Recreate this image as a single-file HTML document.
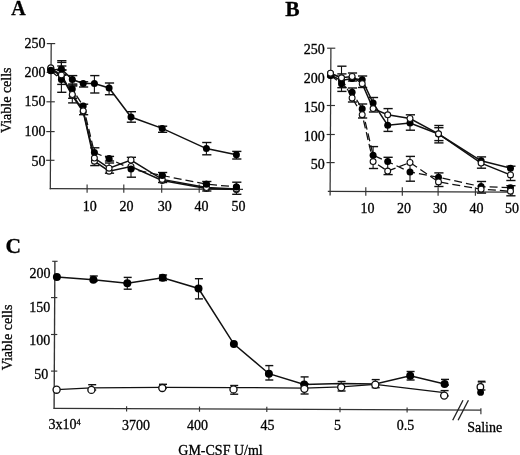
<!DOCTYPE html>
<html><head><meta charset="utf-8"><style>
html,body{margin:0;padding:0;background:#fff;}
svg{display:block;will-change:transform;}
text{font-family:"Liberation Serif",serif;fill:#000;stroke:#000;stroke-width:0.3px;}
</style></head><body>
<svg width="520" height="455" viewBox="0 0 520 455" stroke="#111" stroke-linecap="butt">
<text transform="translate(11.3 14.5) scale(0.93 1)" font-size="21.5" text-anchor="start" font-weight="bold">A</text>
<line x1="51.20" y1="43.60" x2="50.30" y2="189.30" stroke-width="1.25" stroke="#333"/>
<line x1="49.70" y1="188.70" x2="243.00" y2="189.40" stroke-width="1.25" stroke="#333"/>
<line x1="46.80" y1="43.60" x2="55.20" y2="43.60" stroke-width="1.15" stroke="#333"/>
<text transform="translate(45.5 48.1) scale(1.0 1)" font-size="14" text-anchor="end" font-weight="normal">250</text>
<line x1="46.62" y1="72.40" x2="55.02" y2="72.40" stroke-width="1.15" stroke="#333"/>
<text transform="translate(45.5 76.9) scale(1.0 1)" font-size="14" text-anchor="end" font-weight="normal">200</text>
<line x1="46.44" y1="101.80" x2="54.84" y2="101.80" stroke-width="1.15" stroke="#333"/>
<text transform="translate(45.5 106.3) scale(1.0 1)" font-size="14" text-anchor="end" font-weight="normal">150</text>
<line x1="46.26" y1="131.60" x2="54.66" y2="131.60" stroke-width="1.15" stroke="#333"/>
<text transform="translate(45.5 136.1) scale(1.0 1)" font-size="14" text-anchor="end" font-weight="normal">100</text>
<line x1="46.08" y1="160.30" x2="54.48" y2="160.30" stroke-width="1.15" stroke="#333"/>
<text transform="translate(45.5 165.9) scale(1.0 1)" font-size="14" text-anchor="end" font-weight="normal">50</text>
<line x1="87.10" y1="184.50" x2="87.10" y2="192.80" stroke-width="1.15" stroke="#333"/>
<text transform="translate(89.7 211.0) scale(1.0 1)" font-size="14" text-anchor="middle" font-weight="normal">10</text>
<line x1="123.80" y1="184.50" x2="123.80" y2="192.80" stroke-width="1.15" stroke="#333"/>
<text transform="translate(126.4 211.0) scale(1.0 1)" font-size="14" text-anchor="middle" font-weight="normal">20</text>
<line x1="161.70" y1="184.50" x2="161.70" y2="192.80" stroke-width="1.15" stroke="#333"/>
<text transform="translate(164.7 211.0) scale(1.0 1)" font-size="14" text-anchor="middle" font-weight="normal">30</text>
<line x1="199.20" y1="184.50" x2="199.20" y2="192.80" stroke-width="1.15" stroke="#333"/>
<text transform="translate(201.5 211.0) scale(1.0 1)" font-size="14" text-anchor="middle" font-weight="normal">40</text>
<line x1="236.60" y1="184.50" x2="236.60" y2="192.80" stroke-width="1.15" stroke="#333"/>
<text transform="translate(238.6 211.0) scale(1.0 1)" font-size="14" text-anchor="middle" font-weight="normal">50</text>
<text transform="translate(10.8 133.1) rotate(-90)" font-size="14" text-anchor="start" font-weight="normal">Viable cells</text>
<line x1="61.4" y1="60.7" x2="61.4" y2="75" stroke-width="1.1"/>
<line x1="57.20" y1="60.7" x2="66.40" y2="60.7" stroke-width="1.4"/>
<line x1="57.20" y1="75" x2="66.40" y2="75" stroke-width="1.4"/>
<line x1="61.4" y1="62.4" x2="61.4" y2="75" stroke-width="1.1"/>
<line x1="57.20" y1="62.4" x2="66.40" y2="62.4" stroke-width="1.4"/>
<line x1="57.20" y1="75" x2="66.40" y2="75" stroke-width="1.4"/>
<line x1="61.4" y1="66" x2="61.4" y2="75" stroke-width="1.1"/>
<line x1="57.20" y1="66" x2="66.40" y2="66" stroke-width="1.4"/>
<line x1="57.20" y1="75" x2="66.40" y2="75" stroke-width="1.4"/>
<line x1="72.3" y1="75.6" x2="72.3" y2="85" stroke-width="1.1"/>
<line x1="68.10" y1="75.6" x2="77.30" y2="75.6" stroke-width="1.4"/>
<line x1="68.10" y1="85" x2="77.30" y2="85" stroke-width="1.4"/>
<line x1="83.2" y1="81.8" x2="83.2" y2="87" stroke-width="1.1"/>
<line x1="79.00" y1="81.8" x2="88.20" y2="81.8" stroke-width="1.4"/>
<line x1="79.00" y1="87" x2="88.20" y2="87" stroke-width="1.4"/>
<line x1="94.4" y1="75.6" x2="94.4" y2="93" stroke-width="1.1"/>
<line x1="90.20" y1="75.6" x2="99.40" y2="75.6" stroke-width="1.4"/>
<line x1="90.20" y1="93" x2="99.40" y2="93" stroke-width="1.4"/>
<line x1="109.1" y1="83" x2="109.1" y2="94.7" stroke-width="1.1"/>
<line x1="104.90" y1="83" x2="114.10" y2="83" stroke-width="1.4"/>
<line x1="104.90" y1="94.7" x2="114.10" y2="94.7" stroke-width="1.4"/>
<line x1="131.0" y1="111.7" x2="131.0" y2="122.2" stroke-width="1.1"/>
<line x1="126.80" y1="111.7" x2="136.00" y2="111.7" stroke-width="1.4"/>
<line x1="126.80" y1="122.2" x2="136.00" y2="122.2" stroke-width="1.4"/>
<line x1="162.2" y1="126.2" x2="162.2" y2="132.3" stroke-width="1.1"/>
<line x1="158.00" y1="126.2" x2="167.20" y2="126.2" stroke-width="1.4"/>
<line x1="158.00" y1="132.3" x2="167.20" y2="132.3" stroke-width="1.4"/>
<line x1="206.4" y1="142.5" x2="206.4" y2="154.8" stroke-width="1.1"/>
<line x1="202.20" y1="142.5" x2="211.40" y2="142.5" stroke-width="1.4"/>
<line x1="202.20" y1="154.8" x2="211.40" y2="154.8" stroke-width="1.4"/>
<line x1="236.4" y1="151.4" x2="236.4" y2="159" stroke-width="1.1"/>
<line x1="232.20" y1="151.4" x2="241.40" y2="151.4" stroke-width="1.4"/>
<line x1="232.20" y1="159" x2="241.40" y2="159" stroke-width="1.4"/>
<line x1="61.4" y1="70" x2="61.4" y2="84.4" stroke-width="1.1"/>
<line x1="57.20" y1="70" x2="66.40" y2="70" stroke-width="1.4"/>
<line x1="57.20" y1="84.4" x2="66.40" y2="84.4" stroke-width="1.4"/>
<line x1="61.4" y1="70" x2="61.4" y2="92.3" stroke-width="1.1"/>
<line x1="57.20" y1="70" x2="66.40" y2="70" stroke-width="1.4"/>
<line x1="57.20" y1="92.3" x2="66.40" y2="92.3" stroke-width="1.4"/>
<line x1="72.3" y1="84" x2="72.3" y2="98.3" stroke-width="1.1"/>
<line x1="68.10" y1="84" x2="77.30" y2="84" stroke-width="1.4"/>
<line x1="68.10" y1="98.3" x2="77.30" y2="98.3" stroke-width="1.4"/>
<line x1="72.3" y1="86" x2="72.3" y2="102.9" stroke-width="1.1"/>
<line x1="68.10" y1="86" x2="77.30" y2="86" stroke-width="1.4"/>
<line x1="68.10" y1="102.9" x2="77.30" y2="102.9" stroke-width="1.4"/>
<line x1="83.2" y1="104.2" x2="83.2" y2="114.7" stroke-width="1.1"/>
<line x1="79.00" y1="104.2" x2="88.20" y2="104.2" stroke-width="1.4"/>
<line x1="79.00" y1="114.7" x2="88.20" y2="114.7" stroke-width="1.4"/>
<line x1="94.4" y1="147.8" x2="94.4" y2="165.6" stroke-width="1.1"/>
<line x1="90.20" y1="147.8" x2="99.40" y2="147.8" stroke-width="1.4"/>
<line x1="90.20" y1="165.6" x2="99.40" y2="165.6" stroke-width="1.4"/>
<line x1="109.1" y1="156.4" x2="109.1" y2="161" stroke-width="1.1"/>
<line x1="104.90" y1="156.4" x2="114.10" y2="156.4" stroke-width="1.4"/>
<line x1="104.90" y1="161" x2="114.10" y2="161" stroke-width="1.4"/>
<line x1="109.1" y1="163" x2="109.1" y2="173.2" stroke-width="1.1"/>
<line x1="104.90" y1="163" x2="114.10" y2="163" stroke-width="1.4"/>
<line x1="104.90" y1="173.2" x2="114.10" y2="173.2" stroke-width="1.4"/>
<line x1="131.0" y1="157.3" x2="131.0" y2="177.2" stroke-width="1.1"/>
<line x1="126.80" y1="157.3" x2="136.00" y2="157.3" stroke-width="1.4"/>
<line x1="126.80" y1="177.2" x2="136.00" y2="177.2" stroke-width="1.4"/>
<line x1="162.2" y1="172.5" x2="162.2" y2="182.5" stroke-width="1.1"/>
<line x1="158.00" y1="172.5" x2="167.20" y2="172.5" stroke-width="1.4"/>
<line x1="158.00" y1="182.5" x2="167.20" y2="182.5" stroke-width="1.4"/>
<line x1="206.4" y1="181.5" x2="206.4" y2="191" stroke-width="1.1"/>
<line x1="202.20" y1="181.5" x2="211.40" y2="181.5" stroke-width="1.4"/>
<line x1="202.20" y1="191" x2="211.40" y2="191" stroke-width="1.4"/>
<line x1="236.4" y1="182.2" x2="236.4" y2="194.3" stroke-width="1.1"/>
<line x1="232.20" y1="182.2" x2="241.40" y2="182.2" stroke-width="1.4"/>
<line x1="232.20" y1="194.3" x2="241.40" y2="194.3" stroke-width="1.4"/>
<polyline points="50.8,69.0 61.4,76.0 72.3,95.5 83.2,111.8 94.4,161.2 109.1,171.2 131.0,166.5 162.2,180.5 206.4,188.5 236.4,189.6" fill="none" stroke-width="1.5"/>
<polyline points="50.8,70.8 61.4,79.6 72.3,89.0 83.2,106.0 94.4,152.6 109.1,158.6 131.0,169.0 162.2,175.5 206.4,184.2 236.4,186.9" fill="none" stroke-width="1.25" stroke-dasharray="8,4"/>
<polyline points="50.8,68.6 61.4,74.9 72.3,94.5 83.2,110.8 94.4,158.1 109.1,168.2 131.0,160.0 162.2,179.4 206.4,187.6 236.4,188.9" fill="none" stroke-width="1.5"/>
<polyline points="50.8,70.2 61.4,69.0 72.3,79.5 83.2,83.5 94.4,83.5 109.1,88.0 131.0,117.0 162.2,128.4 206.4,148.6 236.4,154.8" fill="none" stroke-width="1.5"/>
<circle cx="50.8" cy="69.0" r="2.95" fill="#fff" stroke-width="1.1"/>
<circle cx="61.4" cy="76.0" r="2.95" fill="#fff" stroke-width="1.1"/>
<circle cx="72.3" cy="95.5" r="2.95" fill="#fff" stroke-width="1.1"/>
<circle cx="83.2" cy="111.8" r="2.95" fill="#fff" stroke-width="1.1"/>
<circle cx="94.4" cy="161.2" r="2.95" fill="#fff" stroke-width="1.1"/>
<circle cx="109.1" cy="171.2" r="2.95" fill="#fff" stroke-width="1.1"/>
<circle cx="131.0" cy="166.5" r="2.95" fill="#fff" stroke-width="1.1"/>
<circle cx="162.2" cy="180.5" r="2.95" fill="#fff" stroke-width="1.1"/>
<circle cx="206.4" cy="188.5" r="2.95" fill="#fff" stroke-width="1.1"/>
<circle cx="236.4" cy="189.6" r="2.95" fill="#fff" stroke-width="1.1"/>
<circle cx="50.8" cy="70.8" r="3.5" fill="#000" stroke="none"/>
<circle cx="61.4" cy="79.6" r="3.5" fill="#000" stroke="none"/>
<circle cx="72.3" cy="89.0" r="3.5" fill="#000" stroke="none"/>
<circle cx="83.2" cy="106.0" r="3.5" fill="#000" stroke="none"/>
<circle cx="94.4" cy="152.6" r="3.5" fill="#000" stroke="none"/>
<circle cx="109.1" cy="158.6" r="3.5" fill="#000" stroke="none"/>
<circle cx="131.0" cy="169.0" r="3.5" fill="#000" stroke="none"/>
<circle cx="162.2" cy="175.5" r="3.5" fill="#000" stroke="none"/>
<circle cx="206.4" cy="184.2" r="3.5" fill="#000" stroke="none"/>
<circle cx="236.4" cy="186.9" r="3.5" fill="#000" stroke="none"/>
<circle cx="50.8" cy="68.6" r="2.95" fill="#fff" stroke-width="1.1"/>
<circle cx="61.4" cy="74.9" r="2.95" fill="#fff" stroke-width="1.1"/>
<circle cx="72.3" cy="94.5" r="2.95" fill="#fff" stroke-width="1.1"/>
<circle cx="83.2" cy="110.8" r="2.95" fill="#fff" stroke-width="1.1"/>
<circle cx="94.4" cy="158.1" r="2.95" fill="#fff" stroke-width="1.1"/>
<circle cx="109.1" cy="168.2" r="2.95" fill="#fff" stroke-width="1.1"/>
<circle cx="131.0" cy="160.0" r="2.95" fill="#fff" stroke-width="1.1"/>
<circle cx="162.2" cy="179.4" r="2.95" fill="#fff" stroke-width="1.1"/>
<circle cx="206.4" cy="187.6" r="2.95" fill="#fff" stroke-width="1.1"/>
<circle cx="236.4" cy="188.9" r="2.95" fill="#fff" stroke-width="1.1"/>
<circle cx="162.2" cy="175.5" r="3.5" fill="#000" stroke="none"/>
<circle cx="206.4" cy="184.2" r="3.5" fill="#000" stroke="none"/>
<circle cx="236.4" cy="186.9" r="3.5" fill="#000" stroke="none"/>
<circle cx="50.8" cy="67.8" r="2.95" fill="#fff" stroke-width="1.1"/>
<circle cx="50.8" cy="70.2" r="3.5" fill="#000" stroke="none"/>
<circle cx="61.4" cy="69.0" r="3.5" fill="#000" stroke="none"/>
<circle cx="72.3" cy="79.5" r="3.5" fill="#000" stroke="none"/>
<circle cx="83.2" cy="83.5" r="3.5" fill="#000" stroke="none"/>
<circle cx="94.4" cy="83.5" r="3.5" fill="#000" stroke="none"/>
<circle cx="109.1" cy="88.0" r="3.5" fill="#000" stroke="none"/>
<circle cx="131.0" cy="117.0" r="3.5" fill="#000" stroke="none"/>
<circle cx="162.2" cy="128.4" r="3.5" fill="#000" stroke="none"/>
<circle cx="206.4" cy="148.6" r="3.5" fill="#000" stroke="none"/>
<circle cx="236.4" cy="154.8" r="3.5" fill="#000" stroke="none"/>
<text transform="translate(285.2 16.3) scale(1.0 1)" font-size="21.5" text-anchor="start" font-weight="bold">B</text>
<line x1="330.90" y1="48.20" x2="330.10" y2="195.60" stroke-width="1.25" stroke="#333"/>
<line x1="327.80" y1="191.40" x2="513.00" y2="192.10" stroke-width="1.25" stroke="#333"/>
<line x1="327.10" y1="48.20" x2="335.30" y2="48.20" stroke-width="1.15" stroke="#333"/>
<text transform="translate(324.8 54.400000000000006) scale(1.0 1)" font-size="14" text-anchor="end" font-weight="normal">250</text>
<line x1="326.94" y1="76.90" x2="335.14" y2="76.90" stroke-width="1.15" stroke="#333"/>
<text transform="translate(324.8 83.10000000000001) scale(1.0 1)" font-size="14" text-anchor="end" font-weight="normal">200</text>
<line x1="326.79" y1="105.50" x2="334.99" y2="105.50" stroke-width="1.15" stroke="#333"/>
<text transform="translate(324.8 111.7) scale(1.0 1)" font-size="14" text-anchor="end" font-weight="normal">150</text>
<line x1="326.63" y1="134.50" x2="334.83" y2="134.50" stroke-width="1.15" stroke="#333"/>
<text transform="translate(324.8 140.7) scale(1.0 1)" font-size="14" text-anchor="end" font-weight="normal">100</text>
<line x1="326.48" y1="162.60" x2="334.68" y2="162.60" stroke-width="1.15" stroke="#333"/>
<text transform="translate(324.8 168.79999999999998) scale(1.0 1)" font-size="14" text-anchor="end" font-weight="normal">50</text>
<line x1="365.80" y1="187.30" x2="365.80" y2="195.80" stroke-width="1.15" stroke="#333"/>
<text transform="translate(367.6 213.2) scale(1.0 1)" font-size="14" text-anchor="middle" font-weight="normal">10</text>
<line x1="402.30" y1="187.30" x2="402.30" y2="195.80" stroke-width="1.15" stroke="#333"/>
<text transform="translate(404.1 213.2) scale(1.0 1)" font-size="14" text-anchor="middle" font-weight="normal">20</text>
<line x1="438.10" y1="187.30" x2="438.10" y2="195.80" stroke-width="1.15" stroke="#333"/>
<text transform="translate(440.0 213.2) scale(1.0 1)" font-size="14" text-anchor="middle" font-weight="normal">30</text>
<line x1="475.40" y1="187.30" x2="475.40" y2="195.80" stroke-width="1.15" stroke="#333"/>
<text transform="translate(476.6 213.2) scale(1.0 1)" font-size="14" text-anchor="middle" font-weight="normal">40</text>
<line x1="512.00" y1="187.30" x2="512.00" y2="195.80" stroke-width="1.15" stroke="#333"/>
<text transform="translate(512.1 213.2) scale(1.0 1)" font-size="14" text-anchor="middle" font-weight="normal">50</text>
<line x1="341.5" y1="66.2" x2="341.5" y2="91.4" stroke-width="1.1"/>
<line x1="337.30" y1="66.2" x2="346.50" y2="66.2" stroke-width="1.4"/>
<line x1="337.30" y1="91.4" x2="346.50" y2="91.4" stroke-width="1.4"/>
<line x1="352.1" y1="73" x2="352.1" y2="81" stroke-width="1.1"/>
<line x1="347.90" y1="73" x2="357.10" y2="73" stroke-width="1.4"/>
<line x1="347.90" y1="81" x2="357.10" y2="81" stroke-width="1.4"/>
<line x1="362.2" y1="76" x2="362.2" y2="87.5" stroke-width="1.1"/>
<line x1="358.00" y1="76" x2="367.20" y2="76" stroke-width="1.4"/>
<line x1="358.00" y1="87.5" x2="367.20" y2="87.5" stroke-width="1.4"/>
<line x1="373.1" y1="97.5" x2="373.1" y2="112" stroke-width="1.1"/>
<line x1="368.90" y1="97.5" x2="378.10" y2="97.5" stroke-width="1.4"/>
<line x1="368.90" y1="112" x2="378.10" y2="112" stroke-width="1.4"/>
<line x1="387.7" y1="108.6" x2="387.7" y2="131.4" stroke-width="1.1"/>
<line x1="383.50" y1="108.6" x2="392.70" y2="108.6" stroke-width="1.4"/>
<line x1="383.50" y1="131.4" x2="392.70" y2="131.4" stroke-width="1.4"/>
<line x1="410.0" y1="114.8" x2="410.0" y2="130.2" stroke-width="1.1"/>
<line x1="405.80" y1="114.8" x2="415.00" y2="114.8" stroke-width="1.4"/>
<line x1="405.80" y1="130.2" x2="415.00" y2="130.2" stroke-width="1.4"/>
<line x1="438.5" y1="125.5" x2="438.5" y2="142.9" stroke-width="1.1"/>
<line x1="434.30" y1="125.5" x2="443.50" y2="125.5" stroke-width="1.4"/>
<line x1="434.30" y1="142.9" x2="443.50" y2="142.9" stroke-width="1.4"/>
<line x1="481.1" y1="156.9" x2="481.1" y2="168.2" stroke-width="1.1"/>
<line x1="476.90" y1="156.9" x2="486.10" y2="156.9" stroke-width="1.4"/>
<line x1="476.90" y1="168.2" x2="486.10" y2="168.2" stroke-width="1.4"/>
<line x1="510.5" y1="166.2" x2="510.5" y2="180.5" stroke-width="1.1"/>
<line x1="506.30" y1="166.2" x2="515.50" y2="166.2" stroke-width="1.4"/>
<line x1="506.30" y1="180.5" x2="515.50" y2="180.5" stroke-width="1.4"/>
<line x1="438.5" y1="127.7" x2="438.5" y2="140.6" stroke-width="1.1"/>
<line x1="434.30" y1="127.7" x2="443.50" y2="127.7" stroke-width="1.4"/>
<line x1="434.30" y1="140.6" x2="443.50" y2="140.6" stroke-width="1.4"/>
<line x1="341.5" y1="73.9" x2="341.5" y2="87.7" stroke-width="1.1"/>
<line x1="337.30" y1="73.9" x2="346.50" y2="73.9" stroke-width="1.4"/>
<line x1="337.30" y1="87.7" x2="346.50" y2="87.7" stroke-width="1.4"/>
<line x1="352.1" y1="88" x2="352.1" y2="102" stroke-width="1.1"/>
<line x1="347.90" y1="88" x2="357.10" y2="88" stroke-width="1.4"/>
<line x1="347.90" y1="102" x2="357.10" y2="102" stroke-width="1.4"/>
<line x1="362.2" y1="104" x2="362.2" y2="118" stroke-width="1.1"/>
<line x1="358.00" y1="104" x2="367.20" y2="104" stroke-width="1.4"/>
<line x1="358.00" y1="118" x2="367.20" y2="118" stroke-width="1.4"/>
<line x1="373.1" y1="146.6" x2="373.1" y2="168.5" stroke-width="1.1"/>
<line x1="368.90" y1="146.6" x2="378.10" y2="146.6" stroke-width="1.4"/>
<line x1="368.90" y1="168.5" x2="378.10" y2="168.5" stroke-width="1.4"/>
<line x1="387.7" y1="157.3" x2="387.7" y2="174.6" stroke-width="1.1"/>
<line x1="383.50" y1="157.3" x2="392.70" y2="157.3" stroke-width="1.4"/>
<line x1="383.50" y1="174.6" x2="392.70" y2="174.6" stroke-width="1.4"/>
<line x1="410.0" y1="156.4" x2="410.0" y2="181.2" stroke-width="1.1"/>
<line x1="405.80" y1="156.4" x2="415.00" y2="156.4" stroke-width="1.4"/>
<line x1="405.80" y1="181.2" x2="415.00" y2="181.2" stroke-width="1.4"/>
<line x1="438.5" y1="172.9" x2="438.5" y2="186.5" stroke-width="1.1"/>
<line x1="434.30" y1="172.9" x2="443.50" y2="172.9" stroke-width="1.4"/>
<line x1="434.30" y1="186.5" x2="443.50" y2="186.5" stroke-width="1.4"/>
<line x1="481.1" y1="181.5" x2="481.1" y2="193.1" stroke-width="1.1"/>
<line x1="476.90" y1="181.5" x2="486.10" y2="181.5" stroke-width="1.4"/>
<line x1="476.90" y1="193.1" x2="486.10" y2="193.1" stroke-width="1.4"/>
<line x1="510.5" y1="185.7" x2="510.5" y2="195.8" stroke-width="1.1"/>
<line x1="506.30" y1="185.7" x2="515.50" y2="185.7" stroke-width="1.4"/>
<line x1="506.30" y1="195.8" x2="515.50" y2="195.8" stroke-width="1.4"/>
<polyline points="330.5,75.6 341.5,83.7 352.1,92.3 362.2,108.8 373.1,155.3 387.7,161.6 410.0,172.0 438.5,177.3 481.1,186.6 510.5,187.7" fill="none" stroke-width="1.25" stroke-dasharray="8,4"/>
<polyline points="330.5,73.5 341.5,78.0 352.1,98.0 362.2,114.7 373.1,161.6 387.7,171.1 410.0,162.5 438.5,181.9 481.1,189.2 510.5,191.2" fill="none" stroke-width="1.25" stroke-dasharray="8,4"/>
<polyline points="330.5,75.2 341.5,80.5 352.1,78.5 362.2,79.8 373.1,103.1 387.7,125.2 410.0,123.1 438.5,134.0 481.1,160.8 510.5,168.2" fill="none" stroke-width="1.5"/>
<polyline points="330.5,73.2 341.5,77.8 352.1,76.5 362.2,83.7 373.1,108.6 387.7,114.8 410.0,118.5 438.5,133.8 481.1,163.1 510.5,174.9" fill="none" stroke-width="1.5"/>
<circle cx="330.5" cy="75.6" r="3.5" fill="#000" stroke="none"/>
<circle cx="341.5" cy="83.7" r="3.5" fill="#000" stroke="none"/>
<circle cx="352.1" cy="92.3" r="3.5" fill="#000" stroke="none"/>
<circle cx="362.2" cy="108.8" r="3.5" fill="#000" stroke="none"/>
<circle cx="373.1" cy="155.3" r="3.5" fill="#000" stroke="none"/>
<circle cx="387.7" cy="161.6" r="3.5" fill="#000" stroke="none"/>
<circle cx="410.0" cy="172.0" r="3.5" fill="#000" stroke="none"/>
<circle cx="438.5" cy="177.3" r="3.5" fill="#000" stroke="none"/>
<circle cx="481.1" cy="186.6" r="3.5" fill="#000" stroke="none"/>
<circle cx="510.5" cy="187.7" r="3.5" fill="#000" stroke="none"/>
<circle cx="330.5" cy="73.5" r="2.95" fill="#fff" stroke-width="1.1"/>
<circle cx="341.5" cy="78.0" r="2.95" fill="#fff" stroke-width="1.1"/>
<circle cx="352.1" cy="98.0" r="2.95" fill="#fff" stroke-width="1.1"/>
<circle cx="362.2" cy="114.7" r="2.95" fill="#fff" stroke-width="1.1"/>
<circle cx="373.1" cy="161.6" r="2.95" fill="#fff" stroke-width="1.1"/>
<circle cx="387.7" cy="171.1" r="2.95" fill="#fff" stroke-width="1.1"/>
<circle cx="410.0" cy="162.5" r="2.95" fill="#fff" stroke-width="1.1"/>
<circle cx="438.5" cy="181.9" r="2.95" fill="#fff" stroke-width="1.1"/>
<circle cx="481.1" cy="189.2" r="2.95" fill="#fff" stroke-width="1.1"/>
<circle cx="510.5" cy="191.2" r="2.95" fill="#fff" stroke-width="1.1"/>
<circle cx="330.5" cy="75.2" r="3.5" fill="#000" stroke="none"/>
<circle cx="341.5" cy="80.5" r="3.5" fill="#000" stroke="none"/>
<circle cx="352.1" cy="78.5" r="3.5" fill="#000" stroke="none"/>
<circle cx="362.2" cy="79.8" r="3.5" fill="#000" stroke="none"/>
<circle cx="373.1" cy="103.1" r="3.5" fill="#000" stroke="none"/>
<circle cx="387.7" cy="125.2" r="3.5" fill="#000" stroke="none"/>
<circle cx="410.0" cy="123.1" r="3.5" fill="#000" stroke="none"/>
<circle cx="438.5" cy="134.0" r="3.5" fill="#000" stroke="none"/>
<circle cx="481.1" cy="160.8" r="3.5" fill="#000" stroke="none"/>
<circle cx="510.5" cy="168.2" r="3.5" fill="#000" stroke="none"/>
<circle cx="330.5" cy="73.2" r="2.95" fill="#fff" stroke-width="1.1"/>
<circle cx="341.5" cy="77.8" r="2.95" fill="#fff" stroke-width="1.1"/>
<circle cx="352.1" cy="76.5" r="2.95" fill="#fff" stroke-width="1.1"/>
<circle cx="362.2" cy="83.7" r="2.95" fill="#fff" stroke-width="1.1"/>
<circle cx="373.1" cy="108.6" r="2.95" fill="#fff" stroke-width="1.1"/>
<circle cx="387.7" cy="114.8" r="2.95" fill="#fff" stroke-width="1.1"/>
<circle cx="410.0" cy="118.5" r="2.95" fill="#fff" stroke-width="1.1"/>
<circle cx="438.5" cy="133.8" r="2.95" fill="#fff" stroke-width="1.1"/>
<circle cx="481.1" cy="163.1" r="2.95" fill="#fff" stroke-width="1.1"/>
<circle cx="510.5" cy="174.9" r="2.95" fill="#fff" stroke-width="1.1"/>
<text transform="translate(5.6 252.5) scale(1.0 1)" font-size="21.5" text-anchor="start" font-weight="bold">C</text>
<line x1="54.90" y1="261.30" x2="54.10" y2="408.90" stroke-width="1.35" stroke="#333"/>
<line x1="53.60" y1="408.36" x2="481.00" y2="410.12" stroke-width="1.35" stroke="#333"/>
<line x1="52.20" y1="261.30" x2="57.60" y2="261.30" stroke-width="1.15" stroke="#333"/>
<line x1="51.00" y1="297.60" x2="57.30" y2="297.60" stroke-width="1.15" stroke="#333"/>
<line x1="51.00" y1="334.50" x2="57.30" y2="334.50" stroke-width="1.15" stroke="#333"/>
<line x1="51.00" y1="371.10" x2="57.30" y2="371.10" stroke-width="1.15" stroke="#333"/>
<text transform="translate(50.6 277.9) scale(1.0 1)" font-size="14" text-anchor="end" font-weight="normal">200</text>
<text transform="translate(50.3 311.8) scale(1.0 1)" font-size="14" text-anchor="end" font-weight="normal">150</text>
<text transform="translate(50.3 345.0) scale(1.0 1)" font-size="14" text-anchor="end" font-weight="normal">100</text>
<text transform="translate(48.3 379.2) scale(1.0 1)" font-size="14" text-anchor="end" font-weight="normal">50</text>
<line x1="126.60" y1="406.26" x2="126.60" y2="411.46" stroke-width="1.15" stroke="#333"/>
<line x1="199.50" y1="406.56" x2="199.50" y2="411.76" stroke-width="1.15" stroke="#333"/>
<line x1="266.80" y1="406.84" x2="266.80" y2="412.04" stroke-width="1.15" stroke="#333"/>
<line x1="340.00" y1="407.14" x2="340.00" y2="412.34" stroke-width="1.15" stroke="#333"/>
<line x1="407.10" y1="407.41" x2="407.10" y2="412.61" stroke-width="1.15" stroke="#333"/>
<line x1="480.90" y1="408.22" x2="480.90" y2="414.32" stroke-width="1.15" stroke="#333"/>
<line x1="452.70" y1="420.20" x2="463.00" y2="400.20" stroke-width="1.35" stroke="#222"/>
<line x1="458.10" y1="420.20" x2="468.40" y2="400.20" stroke-width="1.35" stroke="#222"/>
<text transform="translate(48.6 429.4) scale(1.0 1)" font-size="14" text-anchor="start" font-weight="normal">3x10<tspan font-size="8.2" dy="-4.6">4</tspan></text>
<text transform="translate(136.1 429.8) scale(1.0 1)" font-size="14" text-anchor="middle" font-weight="normal">3700</text>
<text transform="translate(197.6 429.8) scale(1.0 1)" font-size="14" text-anchor="middle" font-weight="normal">400</text>
<text transform="translate(267.6 429.8) scale(1.0 1)" font-size="14" text-anchor="middle" font-weight="normal">45</text>
<text transform="translate(337.5 429.8) scale(1.0 1)" font-size="14" text-anchor="middle" font-weight="normal">5</text>
<text transform="translate(405.4 429.8) scale(1.0 1)" font-size="14" text-anchor="middle" font-weight="normal">0.5</text>
<text transform="translate(467.2 431.6) scale(1.0 1)" font-size="14" text-anchor="start" font-weight="normal">Saline</text>
<text transform="translate(178.3 454.6) scale(1.0 1)" font-size="14" text-anchor="start" font-weight="normal">GM-CSF U/ml</text>
<text transform="translate(11.8 370.3) rotate(-90)" font-size="14" text-anchor="start" font-weight="normal">Viable cells</text>
<line x1="93.4" y1="276" x2="93.4" y2="281" stroke-width="1.1"/>
<line x1="89.80" y1="276" x2="97.80" y2="276" stroke-width="1.4"/>
<line x1="89.80" y1="281" x2="97.80" y2="281" stroke-width="1.4"/>
<line x1="127.3" y1="277.4" x2="127.3" y2="289.2" stroke-width="1.1"/>
<line x1="123.70" y1="277.4" x2="131.70" y2="277.4" stroke-width="1.4"/>
<line x1="123.70" y1="289.2" x2="131.70" y2="289.2" stroke-width="1.4"/>
<line x1="162.7" y1="275" x2="162.7" y2="280.5" stroke-width="1.1"/>
<line x1="159.10" y1="275" x2="167.10" y2="275" stroke-width="1.4"/>
<line x1="159.10" y1="280.5" x2="167.10" y2="280.5" stroke-width="1.4"/>
<line x1="198.5" y1="278.7" x2="198.5" y2="298.9" stroke-width="1.1"/>
<line x1="194.90" y1="278.7" x2="202.90" y2="278.7" stroke-width="1.4"/>
<line x1="194.90" y1="298.9" x2="202.90" y2="298.9" stroke-width="1.4"/>
<line x1="268.9" y1="365.6" x2="268.9" y2="380" stroke-width="1.1"/>
<line x1="265.30" y1="365.6" x2="273.30" y2="365.6" stroke-width="1.4"/>
<line x1="265.30" y1="380" x2="273.30" y2="380" stroke-width="1.4"/>
<line x1="304.2" y1="376.9" x2="304.2" y2="384" stroke-width="1.1"/>
<line x1="300.60" y1="376.9" x2="308.60" y2="376.9" stroke-width="1.4"/>
<line x1="300.60" y1="384" x2="308.60" y2="384" stroke-width="1.4"/>
<line x1="410.2" y1="371.5" x2="410.2" y2="380" stroke-width="1.1"/>
<line x1="406.60" y1="371.5" x2="414.60" y2="371.5" stroke-width="1.4"/>
<line x1="406.60" y1="380" x2="414.60" y2="380" stroke-width="1.4"/>
<line x1="444.6" y1="379.4" x2="444.6" y2="385" stroke-width="1.1"/>
<line x1="441.00" y1="379.4" x2="449.00" y2="379.4" stroke-width="1.4"/>
<line x1="441.00" y1="385" x2="449.00" y2="385" stroke-width="1.4"/>
<line x1="91.8" y1="384.7" x2="91.8" y2="390" stroke-width="1.1"/>
<line x1="88.20" y1="384.7" x2="96.20" y2="384.7" stroke-width="1.4"/>
<line x1="88.20" y1="390" x2="96.20" y2="390" stroke-width="1.4"/>
<line x1="162.6" y1="384.3" x2="162.6" y2="388" stroke-width="1.1"/>
<line x1="159.00" y1="384.3" x2="167.00" y2="384.3" stroke-width="1.4"/>
<line x1="159.00" y1="388" x2="167.00" y2="388" stroke-width="1.4"/>
<line x1="233.8" y1="385.5" x2="233.8" y2="394.2" stroke-width="1.1"/>
<line x1="230.20" y1="385.5" x2="238.20" y2="385.5" stroke-width="1.4"/>
<line x1="230.20" y1="394.2" x2="238.20" y2="394.2" stroke-width="1.4"/>
<line x1="304.2" y1="384" x2="304.2" y2="394" stroke-width="1.1"/>
<line x1="300.60" y1="384" x2="308.60" y2="384" stroke-width="1.4"/>
<line x1="300.60" y1="394" x2="308.60" y2="394" stroke-width="1.4"/>
<line x1="341.2" y1="381.5" x2="341.2" y2="391" stroke-width="1.1"/>
<line x1="337.60" y1="381.5" x2="345.60" y2="381.5" stroke-width="1.4"/>
<line x1="337.60" y1="391" x2="345.60" y2="391" stroke-width="1.4"/>
<line x1="375.3" y1="379.6" x2="375.3" y2="387.7" stroke-width="1.1"/>
<line x1="371.70" y1="379.6" x2="379.70" y2="379.6" stroke-width="1.4"/>
<line x1="371.70" y1="387.7" x2="379.70" y2="387.7" stroke-width="1.4"/>
<line x1="444.2" y1="390.6" x2="444.2" y2="396" stroke-width="1.1"/>
<line x1="440.60" y1="390.6" x2="448.60" y2="390.6" stroke-width="1.4"/>
<line x1="440.60" y1="396" x2="448.60" y2="396" stroke-width="1.4"/>
<polyline points="56.9,277.1 93.4,279.7 127.3,283.2 162.7,277.8 198.5,288.5 233.9,344.1 268.9,373.7 304.2,384.4 341.2,383.4 375.3,384.0 410.2,375.8 444.6,383.9" fill="none" stroke-width="1.5"/>
<polyline points="56.6,389.6 91.4,387.8 162.3,387.3 233.5,387.5 304.4,388.0 341.2,386.8 375.3,384.4 444.2,392.6" fill="none" stroke-width="1.25"/>
<circle cx="56.9" cy="277.1" r="4.0" fill="#000" stroke="none"/>
<circle cx="93.4" cy="279.7" r="4.0" fill="#000" stroke="none"/>
<circle cx="127.3" cy="283.2" r="4.0" fill="#000" stroke="none"/>
<circle cx="162.7" cy="277.8" r="4.0" fill="#000" stroke="none"/>
<circle cx="198.5" cy="288.5" r="4.0" fill="#000" stroke="none"/>
<circle cx="233.9" cy="344.1" r="4.0" fill="#000" stroke="none"/>
<circle cx="268.9" cy="373.7" r="4.0" fill="#000" stroke="none"/>
<circle cx="304.2" cy="384.4" r="4.0" fill="#000" stroke="none"/>
<circle cx="410.2" cy="375.8" r="4.0" fill="#000" stroke="none"/>
<circle cx="444.6" cy="383.9" r="4.0" fill="#000" stroke="none"/>
<circle cx="56.6" cy="389.7" r="3.53" fill="#fff" stroke-width="1.35"/>
<circle cx="91.4" cy="389.9" r="3.53" fill="#fff" stroke-width="1.35"/>
<circle cx="162.3" cy="388.0" r="3.53" fill="#fff" stroke-width="1.35"/>
<circle cx="233.5" cy="389.4" r="3.53" fill="#fff" stroke-width="1.35"/>
<circle cx="304.4" cy="388.8" r="3.53" fill="#fff" stroke-width="1.35"/>
<circle cx="341.2" cy="387.3" r="3.53" fill="#fff" stroke-width="1.35"/>
<circle cx="375.3" cy="384.7" r="3.53" fill="#fff" stroke-width="1.35"/>
<circle cx="444.2" cy="395.6" r="3.53" fill="#fff" stroke-width="1.35"/>
<line x1="481.2" y1="381.3" x2="481.2" y2="390" stroke-width="1.1"/>
<line x1="477.80" y1="381.3" x2="485.40" y2="381.3" stroke-width="1.4"/>
<line x1="477.80" y1="390" x2="485.40" y2="390" stroke-width="1.4"/>
<line x1="477.80" y1="382.20" x2="485.80" y2="382.20" stroke-width="0.9"/>
<circle cx="480.4" cy="386.9" r="3.25" fill="#fff" stroke-width="1.3"/>
<circle cx="480.6" cy="392.4" r="3.4" fill="#000" stroke="none"/>
</svg>
</body></html>
